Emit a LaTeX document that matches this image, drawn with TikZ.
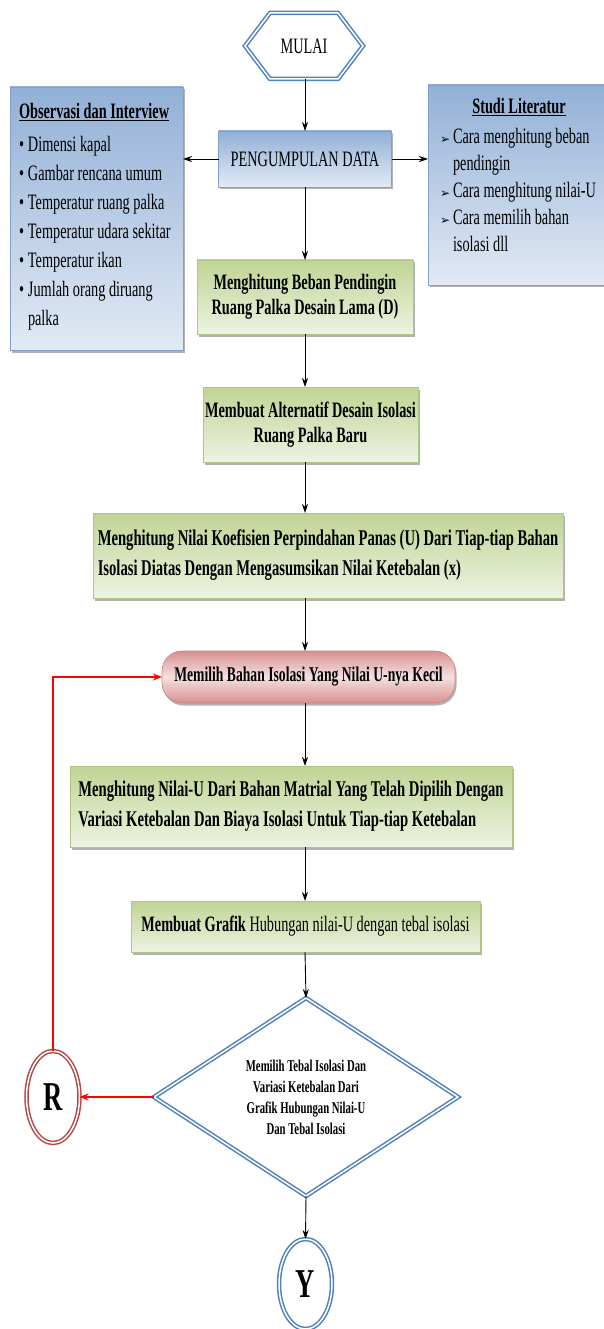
\documentclass[tikz,border=0pt]{standalone}
\usepackage{fontspec}
\setmainfont{Liberation Serif}[FakeStretch=0.65]
\newfontfamily\symfont{DejaVu Sans}
\usetikzlibrary{shapes.geometric,arrows.meta,shadows}
\definecolor{blueD}{RGB}{146,176,214}
\definecolor{blueL}{RGB}{226,234,245}
\definecolor{blueB}{RGB}{130,160,204}
\definecolor{greenD}{RGB}{192,212,148}
\definecolor{greenL}{RGB}{237,243,226}
\definecolor{greenB}{RGB}{175,198,134}
\definecolor{pinkD}{RGB}{216,144,144}
\definecolor{pinkL}{RGB}{245,224,224}
\definecolor{pinkB}{RGB}{205,128,128}
\definecolor{dblue}{RGB}{79,129,189}
\definecolor{dred}{RGB}{180,72,72}
\definecolor{lred}{RGB}{255,0,0}
\newcommand\obsbul{\makebox[9pt][l]{\textbullet}}
\newcommand\litarr{\makebox[13pt][l]{\symfont\fontsize{12}{12}\selectfont ➢}}
\begin{document}
\begin{tikzpicture}[x=1pt,y=-1pt,
  every node/.style={inner sep=0pt, outer sep=0pt, font=\fontsize{22}{25}\selectfont},
  shadowed/.style={drop shadow={shadow xshift=1.5pt,shadow yshift=-2.5pt,opacity=0.3,fill=black}},
  bluebox/.style={rectangle, draw=blueB, line width=0.6pt, top color=blueD, bottom color=blueL, shadowed},
  greenbox/.style={rectangle, draw=greenB, line width=0.6pt, top color=greenD, bottom color=greenL, shadowed, font=\fontsize{22}{25}\selectfont\bfseries},
  pinkbox/.style={rectangle, rounded corners=20pt, draw=pinkB, line width=0.6pt, top color=pinkD, bottom color=pinkD, middle color=pinkL, shadowed, font=\fontsize{21}{25}\selectfont\bfseries},
  dbl/.style={draw=dblue, line width=1.5pt, double=white, double distance=1.5pt},
  dblred/.style={draw=dred, line width=1.5pt, double=white, double distance=1.5pt},
  arr/.style={draw=black, line width=0.9pt, -{Stealth[length=9pt,width=6pt]}},
  redline/.style={draw=lred, line width=2pt},
  redarr/.style={redline, -{Stealth[length=9pt,width=7pt]}},
  listtext/.style={anchor=north west, align=flush left, text width=165pt}
]
\useasboundingbox (0,0) rectangle (604,1329);
\fill[white] (0,0) rectangle (604,1329);
\coordinate (axis) at (305,0);

% start
\node[minimum width=118pt, minimum height=66pt] (mulai) at (304,46) {MULAI};
\draw[dbl] (mulai.west) -- ([xshift=25pt]mulai.north west) -- ([xshift=-25pt]mulai.north east)
  -- (mulai.east) -- ([xshift=-25pt]mulai.south east) -- ([xshift=25pt]mulai.south west) -- cycle;

% data collection
\node[bluebox, minimum width=173pt, minimum height=56pt] (pd) at (305,159) {PENGUMPULAN DATA};
\node[bluebox, minimum width=173pt, minimum height=263pt] (obs) at (96.5,218.5) {};
\node[bluebox, minimum width=176pt, minimum height=200pt] (lit) at (516,185) {};

\node[listtext, font=\fontsize{22}{29}\selectfont] (obsT) at (19,103) {%
\textbf{\underline{Observasi dan Interview}}\\[4pt]
\obsbul Dimensi kapal\\
\obsbul Gambar rencana umum\\
\obsbul Temperatur ruang palka\\
\obsbul Temperatur udara sekitar\\
\obsbul Temperatur ikan\\
\obsbul Jumlah orang diruang\\
\hspace*{9pt}palka};

\node[listtext, font=\fontsize{22}{27}\selectfont, text width=160pt] (litT) at (440,98) {%
\makebox[158pt]{\textbf{\underline{Studi Literatur}}}\\[3pt]
\litarr Cara menghitung beban\\
\hspace*{13pt}pendingin\\
\litarr Cara menghitung nilai-U\\
\litarr Cara memilih bahan\\
\hspace*{13pt}isolasi dll};

% process
\node[greenbox, minimum width=216pt, minimum height=74pt, align=flush center] (b1) at (305,297)
  {Menghitung Beban Pendingin\\Ruang Palka Desain Lama (D)};
\node[greenbox, minimum width=215pt, minimum height=75pt, align=flush center] (b2) at (310.5,424.5)
  {Membuat Alternatif Desain Isolasi\\Ruang Palka Baru};
\node[greenbox, minimum width=470pt, minimum height=85pt, align=flush left, font=\fontsize{22.5}{30}\selectfont\bfseries] (b3) at (328,555.5)
  {Menghitung Nilai Koefisien Perpindahan Panas (U) Dari Tiap-tiap Bahan\\Isolasi Diatas Dengan Mengasumsikan Nilai Ketebalan (x)};
\node[pinkbox, minimum width=293pt, minimum height=52pt] (pink) at (308.5,677)
  {Memilih Bahan Isolasi Yang Nilai U-nya Kecil};
\node[greenbox, minimum width=442pt, minimum height=81pt, align=flush left, font=\fontsize{22.5}{30}\selectfont\bfseries] (b4) at (291,806.5)
  {Menghitung Nilai-U Dari Bahan Matrial Yang Telah Dipilih Dengan\\Variasi Ketebalan Dan Biaya Isolasi Untuk Tiap-tiap Ketebalan};
\node[greenbox, minimum width=349pt, minimum height=51pt] (b5) at (305.5,926.5)
  {Membuat Grafik \mdseries Hubungan nilai-U dengan tebal isolasi};

% decision
\node[diamond, dbl, aspect=1.535, minimum width=304pt, minimum height=198pt, align=flush center,
  font=\fontsize{16.5}{21}\selectfont\bfseries] (dec) at (306,1097)
  {Memilih Tebal Isolasi Dan\\Variasi Ketebalan Dari\\Grafik Hubungan Nilai-U\\Dan Tebal Isolasi};

% connectors
\node[ellipse, dblred, minimum width=53pt, minimum height=92pt, font=\fontsize{41}{41}\selectfont\bfseries] (R) at (53,1097) {R};
\node[ellipse, dbl, minimum width=53pt, minimum height=90pt, font=\fontsize{41}{41}\selectfont\bfseries] (Y) at (305.5,1284) {Y};

% edges
\draw[arr] (axis |- mulai.south) -- (axis |- pd.north);
\draw[arr] (pd.west) -- (pd.west -| obs.east);
\draw[arr] (pd.east) -- (pd.east -| lit.west);
\draw[arr] (axis |- pd.south) -- (axis |- b1.north);
\draw[arr] (axis |- b1.south) -- (axis |- b2.north);
\draw[arr] (axis |- b2.south) -- (axis |- b3.north);
\draw[arr] (axis |- b3.south) -- (axis |- pink.north);
\draw[arr] (axis |- pink.south) -- (axis |- b4.north);
\draw[arr] (axis |- b4.south) -- (axis |- b5.north);
\draw[arr] (axis |- b5.south) -- (dec.north);
\draw[arr] (dec.south) -- (Y.north);
\draw[redarr] (dec.west) -- (R.east);
\coordinate (rc) at (R.north |- pink.west);
\draw[redarr, line join=miter] (R.north) -- (rc) -- (pink.west);
\end{tikzpicture}
\end{document}
